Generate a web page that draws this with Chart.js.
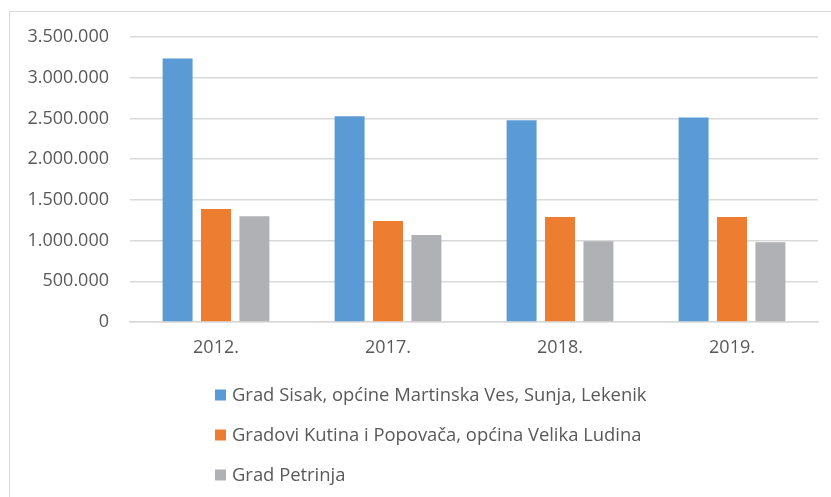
<!DOCTYPE html>
<html>
<head>
<meta charset="utf-8">
<script src="https://cdn.jsdelivr.net/npm/chart.js@4/dist/chart.umd.min.js"></script>
<style>
  html, body { margin: 0; padding: 0; background: #ffffff; }
  #wrap { position: relative; width: 831px; height: 497px; }
</style>
</head>
<body>
<div id="wrap"><canvas id="c" width="831" height="497"></canvas></div>
<script>
// Years shown on the category axis
const years = ['2012.', '2017.', '2018.', '2019.'];

// Series names
const seriesNames = [
  'Grad Sisak, općine Martinska Ves, Sunja, Lekenik',
  'Gradovi Kutina i Popovača, općina Velika Ludina',
  'Grad Petrinja'
];

// Values per series
const sisak  = [3235000, 2526000, 2477000, 2510000];
const kutina = [1388000, 1240000, 1289000, 1289000];
const petrinja = [1298000, 1068000, 991000, 979000];

const seriesColors = ['#5B9BD5', '#ED7D31', '#B0B1B4'];
const textColor = '#595959';
const fontFamily = '"Open Sans", "Liberation Sans", sans-serif';

// Croatian thousands separator: 3.500.000
function fmt(v) {
  return String(Math.round(v)).replace(/\B(?=(\d{3})+(?!\d))/g, '.');
}

// Outer frame: left and top edges only are visible inside the canvas
const framePlugin = {
  id: 'frame',
  beforeDraw(chart) {
    const ctx = chart.ctx;
    ctx.save();
    ctx.strokeStyle = '#d9d9d9';
    ctx.lineWidth = 1;
    ctx.beginPath();
    ctx.moveTo(9.5, chart.height);
    ctx.lineTo(9.5, 11.5);
    ctx.lineTo(chart.width, 11.5);
    ctx.stroke();
    ctx.restore();
  }
};

// Vertical, left-aligned legend below the plot
const listLegend = {
  id: 'listLegend',
  afterDraw(chart) {
    const ctx = chart.ctx;
    ctx.save();
    ctx.font = '18.4px ' + fontFamily;
    ctx.textBaseline = 'middle';
    ctx.textAlign = 'left';
    const x0 = 215, y0 = 395, step = 40, box = 11;
    chart.data.datasets.forEach((ds, i) => {
      const y = y0 + i * step;
      ctx.fillStyle = ds.backgroundColor;
      ctx.fillRect(x0, y - box / 2, box, box);
      ctx.fillStyle = textColor;
      ctx.fillText(ds.label, x0 + 17, y + 1);
    });
    ctx.restore();
  }
};

const datasets = [sisak, kutina, petrinja].map((vals, i) => ({
  label: seriesNames[i],
  data: vals,
  backgroundColor: seriesColors[i],
  borderWidth: 0,
  barPercentage: 0.78,
  categoryPercentage: 0.67
}));

new Chart(document.getElementById('c'), {
  type: 'bar',
  data: { labels: years, datasets },
  plugins: [framePlugin, listLegend],
  options: {
    responsive: false,
    animation: false,
    layout: { padding: { left: 10, right: 13, top: 37, bottom: 135 } },
    plugins: {
      legend: { display: false },
      tooltip: { enabled: false }
    },
    scales: {
      x: {
        grid: { display: false, drawTicks: false },
        border: { display: true, color: '#d9d9d9', width: 1.5 },
        ticks: { color: textColor, font: { family: fontFamily, size: 18 }, padding: 15 },
        afterFit(scale) { scale.height = 40; }
      },
      y: {
        min: 0,
        max: 3500000,
        ticks: {
          stepSize: 500000,
          color: textColor,
          font: { family: fontFamily, size: 18 },
          padding: 21,
          callback: (v) => fmt(v)
        },
        grid: { color: '#d9d9d9', lineWidth: 1.5, drawTicks: false },
        border: { display: false },
        afterFit(scale) { scale.width = 120; }
      }
    }
  }
});
</script>
</body>
</html>
